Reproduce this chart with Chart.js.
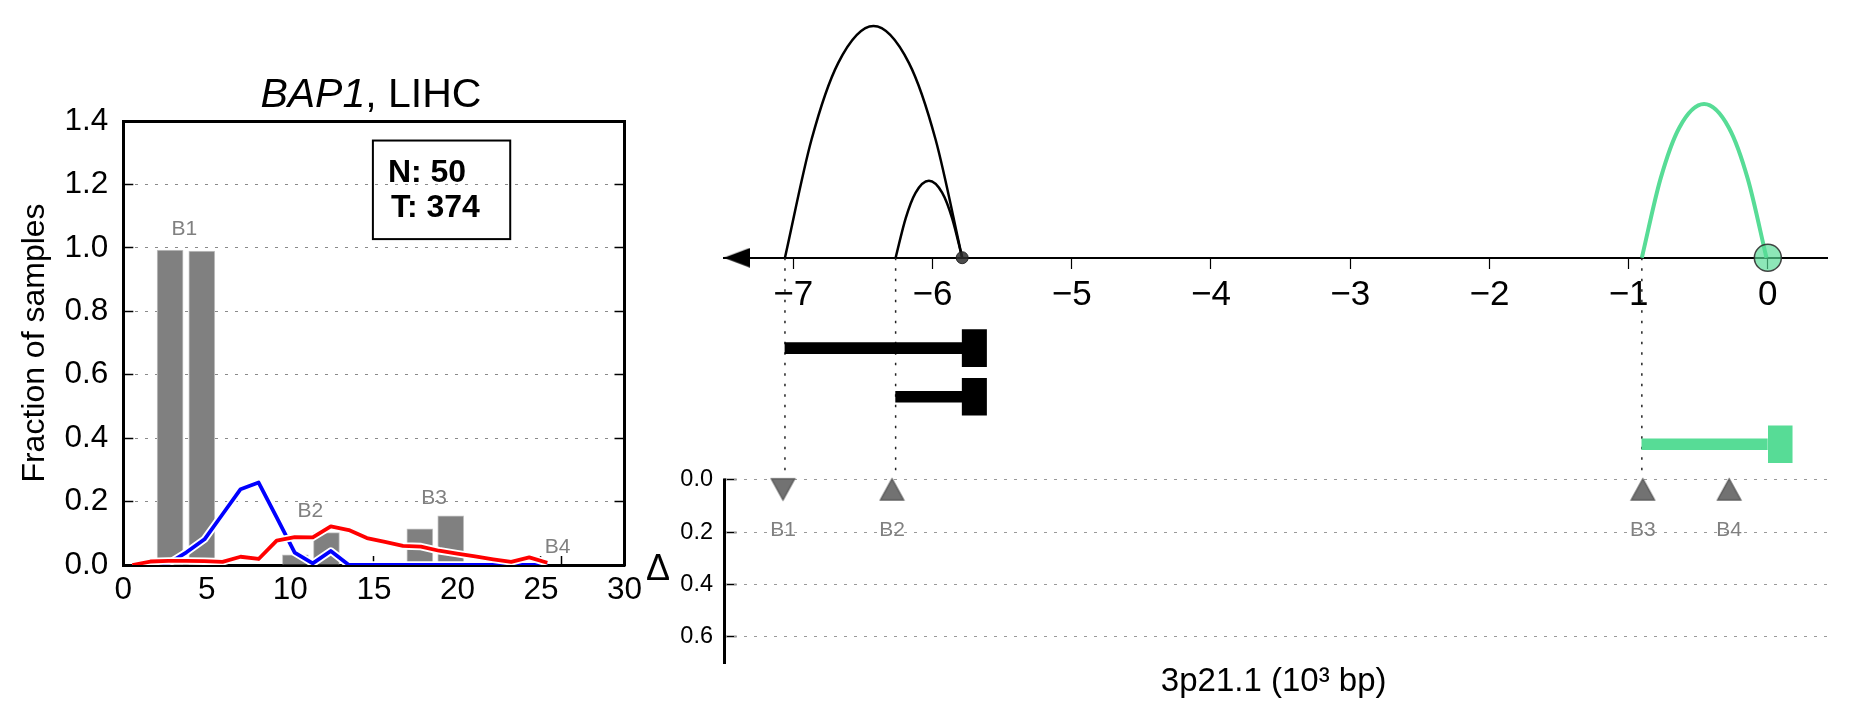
<!DOCTYPE html>
<html>
<head>
<meta charset="utf-8">
<script src="https://cdn.jsdelivr.net/npm/chart.js@4.4.1/dist/chart.umd.min.js"></script>
<style>
  html, body { margin: 0; padding: 0; background: #fff; }
  #wrap { position: relative; width: 1851px; height: 718px; overflow: hidden; }
  canvas { position: absolute; top: 0; }
  #hist { left: 0; }
  #locus { left: 640px; }
</style>
</head>
<body>
<div id="wrap">
  <canvas id="hist" width="680" height="718"></canvas>
  <canvas id="locus" width="1211" height="718"></canvas>
</div>
<script>
Chart.defaults.font.family = '"Liberation Sans", Arial, sans-serif';
Chart.defaults.color = '#000';

const GREEN = '#57dc96';
const LABEL_GRAY = '#808080';

// ---------- left panel: breakpoint histogram ----------
const binX = [0.54, 1.62, 2.70, 3.78, 4.86, 5.94, 7.02, 8.10, 9.18, 10.26, 11.34, 12.42,
              13.50, 14.58, 15.66, 16.74, 17.82, 18.90, 19.98, 21.06, 22.14, 23.22, 24.30, 25.38];
const normalFrac = [0, 0, 0.005, 0.04, 0.081, 0.16, 0.239, 0.26, 0.15, 0.039, 0.005, 0.044,
                    0, 0, 0, 0, 0, 0, 0, 0, 0, 0, 0, 0];
const tumorFrac = [0, 0.011, 0.013, 0.013, 0.012, 0.01, 0.026, 0.019, 0.077, 0.088, 0.087, 0.122,
                   0.11, 0.085, 0.073, 0.06, 0.058, 0.045, 0.036, 0.027, 0.018, 0.01, 0.024, 0.007];
const barX = [2.8, 4.7, 10.3, 12.16, 17.75, 19.6];
const barH = [0.993, 0.99, 0.032, 0.102, 0.114, 0.155];
const histTicks = [0, 5, 10, 15, 20, 25, 26.2, 30];
const histTickLabels = [0, 5, 10, 15, 20, 25, 30];
const histYTicks = [0, 0.2, 0.4, 0.6, 0.8, 1.0, 1.2, 1.4];
const groupNames = ['B1', 'B2', 'B3', 'B4'];
const groupLabelX = [3.65, 11.2, 18.6, 26.0];
const groupLabelY = [1.04, 0.15, 0.193, 0.037];
const sampleCounts = ['N: 50', 'T: 374'];
const histTitle = ['BAP1', ', LIHC'];

// ---------- right panel: locus 3p21.1 ----------
const locusMin = -7.5, locusMax = 0.43;
const locusTicks = [-7, -6, -5, -4, -3, -2, -1, 0];
const arcLongX = [-7.06, -6.869, -6.678, -6.424, -6.169, -5.978, -5.787];
const arcLongY = [0, 0.51, 0.84, 1, 0.84, 0.51, 0];
const arcShortX = [-6.265, -6.193, -6.122, -6.026, -5.930, -5.859, -5.787];
const arcShortY = [0, 0.17, 0.28, 0.332, 0.28, 0.17, 0];
const arcGreenX = [-0.905, -0.771, -0.637, -0.458, -0.279, -0.144, -0.01];
const arcGreenY = [0, 0.34, 0.56, 0.663, 0.56, 0.34, 0];
const geneStart = [-7.06, -6.265, -0.905];
const geneEnd = [-5.787, -5.787, 0];
const geneRow = [-0.39, -0.6, -0.805];
const guideX = [-7.06, -6.265, -0.905];
const markX = [-7.074, -6.291, -0.898, -0.278];
const markDelta = [0.036, 0.036, 0.036, 0.036];
const markDir = ['down', 'up', 'up', 'up'];
const markNames = ['B1', 'B2', 'B3', 'B4'];
const deltaTicks = [0, 0.2, 0.4, 0.6];

// little glyph canvases used as point styles
function triangleGlyph(w, h, fill, stroke) {
  const c = document.createElement('canvas');
  c.width = w + 4; c.height = h + 4;
  const g = c.getContext('2d');
  g.beginPath();
  g.moveTo(c.width / 2, 2);
  g.lineTo(w + 2, h + 2);
  g.lineTo(2, h + 2);
  g.closePath();
  g.fillStyle = fill; g.fill();
  g.lineWidth = 1.5; g.strokeStyle = stroke; g.stroke();
  return c;
}
function arrowGlyph() {
  // tip sits at the centre of the image so it lands on the axis end
  const c = document.createElement('canvas');
  c.width = 52; c.height = 20;
  const g = c.getContext('2d');
  g.beginPath();
  g.moveTo(26, 10); g.lineTo(52, 0.3); g.lineTo(52, 19.7); g.closePath();
  g.fillStyle = '#000'; g.fill();
  return c;
}
const markGlyph = triangleGlyph(23, 21, '#727272', '#5c5c5c');

const histDecor = {
  id: 'histDecor',
  afterDraw(chart) {
    const { ctx, chartArea: a, scales: { x, y } } = chart;
    ctx.save();
    ctx.fillStyle = '#000';
    ctx.textBaseline = 'alphabetic';
    ctx.textAlign = 'left';
    const fIt = 'italic 41px "Liberation Sans"';
    const fRg = '41px "Liberation Sans"';
    ctx.font = fIt; const w1 = ctx.measureText(histTitle[0]).width;
    ctx.font = fRg; const w2 = ctx.measureText(histTitle[1]).width;
    const tx = (a.left + a.right) / 2 - (w1 + w2) / 2 - 3;
    ctx.font = fIt; ctx.fillText(histTitle[0], tx, a.top - 14);
    ctx.font = fRg; ctx.fillText(histTitle[1], tx + w1, a.top - 14);

    // sample count box (axes fraction)
    const aw = a.right - a.left, ah = a.bottom - a.top;
    const bx = a.left + 0.498 * aw, by = a.top + 0.044 * ah;
    const bw = 0.274 * aw, bh = 0.222 * ah;
    ctx.lineWidth = 2; ctx.strokeStyle = '#000';
    ctx.strokeRect(bx, by, bw, bh);
    ctx.font = 'bold 32px "Liberation Sans"';
    ctx.fillText(sampleCounts[0], bx + 15, by + 41);
    ctx.fillText(sampleCounts[1], bx + 18, by + 76);

    ctx.fillStyle = LABEL_GRAY;
    ctx.font = '21px "Liberation Sans"';
    ctx.textAlign = 'center';
    groupNames.forEach((n, i) => {
      ctx.fillText(n, x.getPixelForValue(groupLabelX[i]), y.getPixelForValue(groupLabelY[i]));
    });
    ctx.restore();
  }
};

const lineSet = (data, color, width, order) => ({
  type: 'line', data, borderColor: color, borderWidth: width, pointRadius: 0,
  tension: 0, order, borderJoinStyle: 'round'
});
const toXY = (xs, ys) => xs.map((v, i) => ({ x: v, y: ys[i] }));

new Chart(document.getElementById('hist'), {
  type: 'scatter',
  data: {
    datasets: [
      {
        type: 'bar', data: toXY(barX, barH), backgroundColor: '#808080',
        borderColor: '#c4c4c4', borderWidth: 1, barThickness: 26, order: 10
      },
      lineSet(toXY(binX, normalFrac), '#ffffff', 7.5, 4),
      lineSet(toXY(binX, normalFrac), '#0000ff', 3.8, 3),
      lineSet(toXY(binX, tumorFrac), '#ffffff', 7.5, 2),
      lineSet(toXY(binX, tumorFrac), '#ff0000', 3.8, 1)
    ]
  },
  options: {
    responsive: false, animation: false, events: [], devicePixelRatio: 1,
    layout: { padding: { left: 0, top: 121, right: 55.5, bottom: 0 } },
    plugins: { legend: { display: false }, tooltip: { enabled: false } },
    scales: {
      x: {
        type: 'linear', axis: 'x', position: 'bottom', min: 0, max: 30, offset: false,
        afterBuildTicks: (s) => { s.ticks = histTicks.map(v => ({ value: v })); },
        afterFit: (s) => { s.height = 153; },
        ticks: {
          font: { size: 31.5 }, color: '#000', padding: 15.6, maxRotation: 0, autoSkip: false,
          callback: (v) => histTickLabels.includes(v) ? String(v) : ''
        },
        grid: { offset: false, drawOnChartArea: false, drawTicks: true, tickLength: -9, tickColor: '#000', tickWidth: 1.5 },
        border: { display: true, color: '#000', width: 3 }
      },
      xTop: {
        type: 'linear', axis: 'x', position: 'top', min: 0, max: 30,
        afterFit: (s) => { s.height = 0; },
        ticks: { display: false },
        grid: { drawOnChartArea: false, drawTicks: false },
        border: { display: true, color: '#000', width: 3 }
      },
      y: {
        type: 'linear', axis: 'y', position: 'left', min: 0, max: 1.4,
        afterBuildTicks: (s) => { s.ticks = histYTicks.map(v => ({ value: v })); },
        afterFit: (s) => { s.width = 123.3; },
        ticks: { font: { size: 31.5 }, color: '#000', padding: 25.1, callback: (v) => v.toFixed(1) },
        grid: { color: '#8a8a8a', lineWidth: 1, drawTicks: true, tickLength: -10, tickColor: '#000', tickWidth: 1.5 },
        border: { display: true, color: '#000', width: 3, dash: [3, 7] },
        title: { display: true, text: 'Fraction of samples', font: { size: 32 }, color: '#000', padding: { top: 16, bottom: 0 } }
      },
      yR: {
        type: 'linear', axis: 'y', position: 'right', min: 0, max: 1.4,
        afterBuildTicks: (s) => { s.ticks = histYTicks.map(v => ({ value: v })); },
        afterFit: (s) => { s.width = 0; },
        ticks: { display: false },
        grid: { drawOnChartArea: false, drawTicks: true, tickLength: -10, tickColor: '#000', tickWidth: 1.5 },
        border: { display: true, color: '#000', width: 3 }
      }
    }
  },
  plugins: [histDecor]
});

// ---------- right panel ----------
const locusDecor = {
  id: 'locusDecor',
  beforeDatasetsDraw(chart) {
    const { ctx, chartArea: a, scales: { yDelta } } = chart;
    ctx.save();
    ctx.strokeStyle = '#000'; ctx.lineWidth = 3;
    ctx.beginPath();
    ctx.moveTo(a.left + 0.8, yDelta.getPixelForValue(0) - 1.5);
    ctx.lineTo(a.left + 0.8, a.bottom + 1);
    ctx.stroke();
    ctx.restore();
  },
  afterDraw(chart) {
    const { ctx, chartArea: a, scales: { x, yDelta } } = chart;
    ctx.save();
    ctx.textBaseline = 'alphabetic';
    ctx.textAlign = 'center';
    ctx.fillStyle = LABEL_GRAY;
    ctx.font = '21px "Liberation Sans"';
    markNames.forEach((n, i) => {
      ctx.fillText(n, x.getPixelForValue(markX[i]), yDelta.getPixelForValue(0.215));
    });
    ctx.fillStyle = '#000';
    ctx.font = '36px "Liberation Sans"';
    ctx.fillText('\u0394', 18, 580);
    ctx.font = '33px "Liberation Sans"';
    ctx.fillText('3p21.1 (10\u00B3 bp)', (a.left + a.right) / 2 - 2, 691);
    ctx.restore();
  }
};

const arcSet = (xs, ys, color, width) => ({
  type: 'line', data: toXY(xs, ys), yAxisID: 'yGene', xAxisID: 'x',
  borderColor: color, borderWidth: width, pointRadius: 0,
  cubicInterpolationMode: 'monotone', clip: false, order: 3
});

const guideSets = guideX.map(gx => ({
  type: 'line', data: [{ x: gx, y: 0 }, { x: gx, y: -0.92 }], yAxisID: 'yGene', xAxisID: 'x',
  borderColor: '#222', borderWidth: 1.5, borderDash: [2.5, 8], pointRadius: 0, order: 6
}));

new Chart(document.getElementById('locus'), {
  type: 'scatter',
  data: {
    datasets: [
      ...guideSets,
      {
        type: 'bar', indexAxis: 'y', xAxisID: 'x', yAxisID: 'yGene', grouped: false,
        data: geneStart.map((s, i) => ({ x: [s, geneEnd[i]], y: geneRow[i] })),
        backgroundColor: ['#000', '#000', GREEN], barThickness: 11, order: 5
      },
      {
        type: 'bar', indexAxis: 'y', xAxisID: 'x', yAxisID: 'yGene', grouped: false,
        data: geneEnd.map((e, i) => ({ x: [e, e + 0.175], y: geneRow[i] })),
        backgroundColor: ['#000', '#000', GREEN], barThickness: 37, order: 5
      },
      arcSet(arcLongX, arcLongY, '#000', 2.5),
      arcSet(arcShortX, arcShortY, '#000', 2.5),
      arcSet(arcGreenX, arcGreenY, GREEN, 4),
      {
        type: 'scatter', xAxisID: 'x', yAxisID: 'yGene', clip: false, order: 2,
        data: [{ x: geneEnd[0], y: 0 }, { x: geneEnd[2], y: 0 }],
        pointRadius: [6, 13.5],
        pointBackgroundColor: ['rgba(45,45,45,0.85)', 'rgba(87,220,150,0.68)'],
        pointBorderColor: ['rgba(30,30,30,0.9)', 'rgba(50,50,50,0.9)'],
        pointBorderWidth: [1, 1.5]
      },
      {
        type: 'scatter', xAxisID: 'x', yAxisID: 'yGene', clip: false, order: 1,
        data: [{ x: locusMin, y: 0 }], pointStyle: arrowGlyph(), pointRadius: 5
      },
      {
        type: 'scatter', xAxisID: 'x', yAxisID: 'yDelta', clip: false, order: 1,
        data: toXY(markX, markDelta), pointStyle: markGlyph, pointRadius: 8,
        rotation: markDir.map(d => d === 'down' ? 180 : 0)
      }
    ]
  },
  options: {
    responsive: false, animation: false, events: [], devicePixelRatio: 1,
    layout: { padding: { left: 0, top: 25, right: 23.3, bottom: 55 } },
    plugins: { legend: { display: false }, tooltip: { enabled: false } },
    scales: {
      x: {
        type: 'linear', axis: 'x', min: locusMin, max: locusMax, position: { yGene: 0 }, offset: false,
        afterBuildTicks: (s) => { s.ticks = locusTicks.map(v => ({ value: v })); },
        ticks: {
          font: { size: 35 }, color: '#000', padding: 7, maxRotation: 0, autoSkip: false,
          callback: (v) => v < 0 ? '\u2212' + Math.abs(v) : String(v)
        },
        grid: { offset: false, drawOnChartArea: false, drawTicks: true, tickLength: 10, tickColor: '#000', tickWidth: 1.2 },
        border: { display: true, color: '#000', width: 2 }
      },
      yGene: {
        type: 'linear', axis: 'y', display: false, min: -1.7492, max: 1.0043,
        offset: false, grid: { offset: false }
      },
      yDeltaTicks: {
        type: 'linear', axis: 'y', position: 'left', weight: 0, reverse: true, min: -1.74, max: 0.7,
        afterBuildTicks: (s) => { s.ticks = deltaTicks.map(v => ({ value: v })); },
        afterFit: (s) => { s.width = 0; },
        ticks: { display: false },
        grid: { drawOnChartArea: false, drawTicks: true, tickLength: -13, tickColor: '#000', tickWidth: 1.5 },
        border: { display: false }
      },
      yDelta: {
        type: 'linear', axis: 'y', position: 'left', weight: 1, reverse: true, min: -1.74, max: 0.7,
        afterBuildTicks: (s) => { s.ticks = deltaTicks.map(v => ({ value: v })); },
        afterFit: (s) => { s.width = 83.7; },
        ticks: { font: { size: 23.5 }, color: '#000', padding: 10.7, callback: (v) => v.toFixed(1) },
        grid: { color: '#9a9a9a', lineWidth: 1, drawTicks: false },
        border: { display: false, dash: [3, 7] }
      }
    }
  },
  plugins: [locusDecor]
});
</script>
</body>
</html>
